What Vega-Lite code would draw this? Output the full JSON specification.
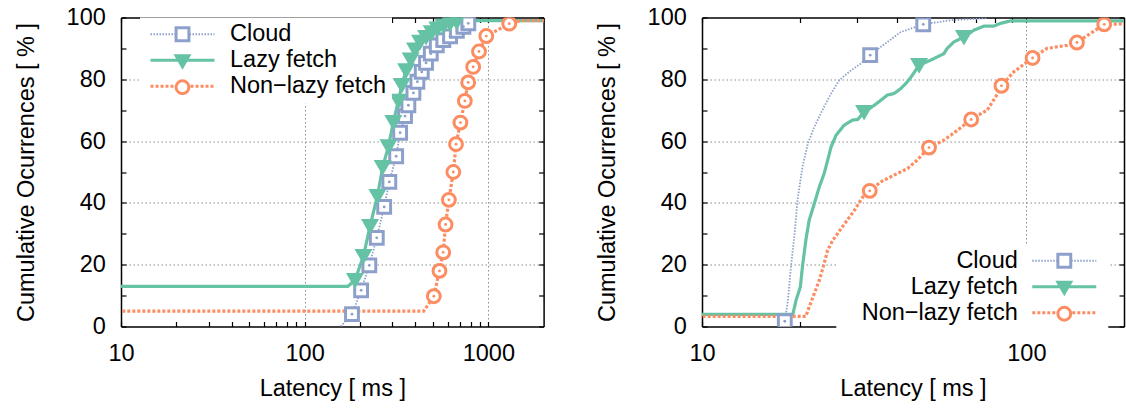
{
  "$schema": "https://vega.github.io/schema/vega-lite/v6.json",
  "background": "white",
  "padding": {"left": 14, "top": 5.5, "right": 2, "bottom": 2},
  "spacing": 50,
  "resolve": {"legend": {"color": "independent", "strokeDash": "independent", "shape": "independent"}},
  "datasets": {
    "left_lines": [
      {"series": "Cloud", "latency": 157, "pct": 0}, {"series": "Cloud", "latency": 181, "pct": 4}, {"series": "Cloud", "latency": 203, "pct": 11.7}, {"series": "Cloud", "latency": 225, "pct": 19.8}, {"series": "Cloud", "latency": 247, "pct": 28.7}, {"series": "Cloud", "latency": 271, "pct": 38.7}, {"series": "Cloud", "latency": 289, "pct": 46.8}, {"series": "Cloud", "latency": 315, "pct": 55.1}, {"series": "Cloud", "latency": 331, "pct": 62.7}, {"series": "Cloud", "latency": 352, "pct": 68.1}, {"series": "Cloud", "latency": 367, "pct": 71.6}, {"series": "Cloud", "latency": 391, "pct": 75.6}, {"series": "Cloud", "latency": 411, "pct": 79.2}, {"series": "Cloud", "latency": 434, "pct": 82.4}, {"series": "Cloud", "latency": 458, "pct": 85.3}, {"series": "Cloud", "latency": 486, "pct": 88.3}, {"series": "Cloud", "latency": 524, "pct": 91}, {"series": "Cloud", "latency": 569, "pct": 92.7}, {"series": "Cloud", "latency": 619, "pct": 93.9}, {"series": "Cloud", "latency": 674, "pct": 95.7}, {"series": "Cloud", "latency": 732, "pct": 97}, {"series": "Cloud", "latency": 778, "pct": 98.1}, {"series": "Cloud", "latency": 830, "pct": 99}, {"series": "Cloud", "latency": 3000, "pct": 99},
      {"series": "Lazy fetch", "latency": 1, "pct": 13}, {"series": "Lazy fetch", "latency": 172, "pct": 13}, {"series": "Lazy fetch", "latency": 188, "pct": 15}, {"series": "Lazy fetch", "latency": 209, "pct": 22.8}, {"series": "Lazy fetch", "latency": 227, "pct": 32.5}, {"series": "Lazy fetch", "latency": 249, "pct": 42.2}, {"series": "Lazy fetch", "latency": 266, "pct": 51.6}, {"series": "Lazy fetch", "latency": 286, "pct": 58.3}, {"series": "Lazy fetch", "latency": 304, "pct": 66.2}, {"series": "Lazy fetch", "latency": 324, "pct": 73}, {"series": "Lazy fetch", "latency": 338, "pct": 78.1}, {"series": "Lazy fetch", "latency": 357, "pct": 82.9}, {"series": "Lazy fetch", "latency": 378, "pct": 86.4}, {"series": "Lazy fetch", "latency": 399, "pct": 89.6}, {"series": "Lazy fetch", "latency": 425, "pct": 92.1}, {"series": "Lazy fetch", "latency": 458, "pct": 93.7}, {"series": "Lazy fetch", "latency": 492, "pct": 95.2}, {"series": "Lazy fetch", "latency": 528, "pct": 96.4}, {"series": "Lazy fetch", "latency": 569, "pct": 97.3}, {"series": "Lazy fetch", "latency": 619, "pct": 98.1}, {"series": "Lazy fetch", "latency": 673, "pct": 98.6}, {"series": "Lazy fetch", "latency": 720, "pct": 99}, {"series": "Lazy fetch", "latency": 3000, "pct": 99},
      {"series": "Non−lazy fetch", "latency": 1, "pct": 5}, {"series": "Non−lazy fetch", "latency": 445, "pct": 5}, {"series": "Non−lazy fetch", "latency": 505, "pct": 9.8}, {"series": "Non−lazy fetch", "latency": 542, "pct": 18}, {"series": "Non−lazy fetch", "latency": 568, "pct": 24}, {"series": "Non−lazy fetch", "latency": 585, "pct": 33}, {"series": "Non−lazy fetch", "latency": 610, "pct": 41}, {"series": "Non−lazy fetch", "latency": 645, "pct": 50}, {"series": "Non−lazy fetch", "latency": 667, "pct": 59}, {"series": "Non−lazy fetch", "latency": 705, "pct": 66}, {"series": "Non−lazy fetch", "latency": 745, "pct": 73}, {"series": "Non−lazy fetch", "latency": 777, "pct": 79}, {"series": "Non−lazy fetch", "latency": 827, "pct": 84}, {"series": "Non−lazy fetch", "latency": 890, "pct": 89}, {"series": "Non−lazy fetch", "latency": 975, "pct": 94}, {"series": "Non−lazy fetch", "latency": 1300, "pct": 98}, {"series": "Non−lazy fetch", "latency": 1500, "pct": 99}, {"series": "Non−lazy fetch", "latency": 3000, "pct": 99}
    ],
    "left_points": [
      {"series": "Cloud", "latency": 181, "pct": 4}, {"series": "Cloud", "latency": 203, "pct": 11.7}, {"series": "Cloud", "latency": 225, "pct": 19.8}, {"series": "Cloud", "latency": 247, "pct": 28.7}, {"series": "Cloud", "latency": 271, "pct": 38.7}, {"series": "Cloud", "latency": 289, "pct": 46.8}, {"series": "Cloud", "latency": 315, "pct": 55.1}, {"series": "Cloud", "latency": 331, "pct": 62.7}, {"series": "Cloud", "latency": 352, "pct": 68.1}, {"series": "Cloud", "latency": 367, "pct": 71.6}, {"series": "Cloud", "latency": 391, "pct": 75.6}, {"series": "Cloud", "latency": 411, "pct": 79.2}, {"series": "Cloud", "latency": 434, "pct": 82.4}, {"series": "Cloud", "latency": 458, "pct": 85.3}, {"series": "Cloud", "latency": 486, "pct": 88.3}, {"series": "Cloud", "latency": 524, "pct": 91}, {"series": "Cloud", "latency": 569, "pct": 92.7}, {"series": "Cloud", "latency": 619, "pct": 93.9}, {"series": "Cloud", "latency": 674, "pct": 95.7}, {"series": "Cloud", "latency": 732, "pct": 97}, {"series": "Cloud", "latency": 778, "pct": 98.1},
      {"series": "Lazy fetch", "latency": 188, "pct": 15}, {"series": "Lazy fetch", "latency": 209, "pct": 22.8}, {"series": "Lazy fetch", "latency": 227, "pct": 32.5}, {"series": "Lazy fetch", "latency": 249, "pct": 42.2}, {"series": "Lazy fetch", "latency": 266, "pct": 51.6}, {"series": "Lazy fetch", "latency": 286, "pct": 58.3}, {"series": "Lazy fetch", "latency": 304, "pct": 66.2}, {"series": "Lazy fetch", "latency": 324, "pct": 73}, {"series": "Lazy fetch", "latency": 338, "pct": 78.1}, {"series": "Lazy fetch", "latency": 357, "pct": 82.9}, {"series": "Lazy fetch", "latency": 378, "pct": 86.4}, {"series": "Lazy fetch", "latency": 399, "pct": 89.6}, {"series": "Lazy fetch", "latency": 425, "pct": 92.1}, {"series": "Lazy fetch", "latency": 458, "pct": 93.7}, {"series": "Lazy fetch", "latency": 492, "pct": 95.2}, {"series": "Lazy fetch", "latency": 528, "pct": 96.4}, {"series": "Lazy fetch", "latency": 569, "pct": 97.3}, {"series": "Lazy fetch", "latency": 619, "pct": 98.1}, {"series": "Lazy fetch", "latency": 673, "pct": 98.6},
      {"series": "Non−lazy fetch", "latency": 505, "pct": 9.8}, {"series": "Non−lazy fetch", "latency": 542, "pct": 18}, {"series": "Non−lazy fetch", "latency": 568, "pct": 24}, {"series": "Non−lazy fetch", "latency": 585, "pct": 33}, {"series": "Non−lazy fetch", "latency": 610, "pct": 41}, {"series": "Non−lazy fetch", "latency": 645, "pct": 50}, {"series": "Non−lazy fetch", "latency": 667, "pct": 59}, {"series": "Non−lazy fetch", "latency": 705, "pct": 66}, {"series": "Non−lazy fetch", "latency": 745, "pct": 73}, {"series": "Non−lazy fetch", "latency": 777, "pct": 79}, {"series": "Non−lazy fetch", "latency": 827, "pct": 84}, {"series": "Non−lazy fetch", "latency": 890, "pct": 89}, {"series": "Non−lazy fetch", "latency": 975, "pct": 94}, {"series": "Non−lazy fetch", "latency": 1300, "pct": 98}
    ],
    "right_lines": [
      {"series": "Cloud", "latency": 18, "pct": 1.7}, {"series": "Cloud", "latency": 18.4, "pct": 8.5}, {"series": "Cloud", "latency": 18.8, "pct": 19.3}, {"series": "Cloud", "latency": 19.3, "pct": 30.1}, {"series": "Cloud", "latency": 19.7, "pct": 40.9}, {"series": "Cloud", "latency": 20.4, "pct": 51.6}, {"series": "Cloud", "latency": 21.2, "pct": 59.2}, {"series": "Cloud", "latency": 22.2, "pct": 64.6}, {"series": "Cloud", "latency": 23.5, "pct": 70}, {"series": "Cloud", "latency": 25, "pct": 75.4}, {"series": "Cloud", "latency": 26.5, "pct": 79.7}, {"series": "Cloud", "latency": 28.8, "pct": 82.9}, {"series": "Cloud", "latency": 30.9, "pct": 85.1}, {"series": "Cloud", "latency": 33, "pct": 87.8}, {"series": "Cloud", "latency": 35.6, "pct": 90.5}, {"series": "Cloud", "latency": 39.1, "pct": 93.7}, {"series": "Cloud", "latency": 41, "pct": 95.3}, {"series": "Cloud", "latency": 48.1, "pct": 97.8}, {"series": "Cloud", "latency": 58.3, "pct": 99.1}, {"series": "Cloud", "latency": 76, "pct": 99.8},
      {"series": "Lazy fetch", "latency": 1, "pct": 3.9}, {"series": "Lazy fetch", "latency": 19.05, "pct": 3.9}, {"series": "Lazy fetch", "latency": 19.5, "pct": 8.5}, {"series": "Lazy fetch", "latency": 20.1, "pct": 12.8}, {"series": "Lazy fetch", "latency": 20.4, "pct": 19.3}, {"series": "Lazy fetch", "latency": 20.9, "pct": 27.9}, {"series": "Lazy fetch", "latency": 21.4, "pct": 34.4}, {"series": "Lazy fetch", "latency": 22.2, "pct": 39.8}, {"series": "Lazy fetch", "latency": 23, "pct": 45.2}, {"series": "Lazy fetch", "latency": 23.8, "pct": 49.5}, {"series": "Lazy fetch", "latency": 24.4, "pct": 53.8}, {"series": "Lazy fetch", "latency": 25, "pct": 58.1}, {"series": "Lazy fetch", "latency": 25.9, "pct": 61.9}, {"series": "Lazy fetch", "latency": 27.4, "pct": 65.1}, {"series": "Lazy fetch", "latency": 29.1, "pct": 66.8}, {"series": "Lazy fetch", "latency": 30.2, "pct": 67}, {"series": "Lazy fetch", "latency": 31.6, "pct": 69.4}, {"series": "Lazy fetch", "latency": 34, "pct": 71.6}, {"series": "Lazy fetch", "latency": 37.3, "pct": 74.9}, {"series": "Lazy fetch", "latency": 39.1, "pct": 75.4}, {"series": "Lazy fetch", "latency": 41, "pct": 77}, {"series": "Lazy fetch", "latency": 43, "pct": 79.2}, {"series": "Lazy fetch", "latency": 44.5, "pct": 81.3}, {"series": "Lazy fetch", "latency": 46.7, "pct": 84.6}, {"series": "Lazy fetch", "latency": 50.7, "pct": 86.2}, {"series": "Lazy fetch", "latency": 55.7, "pct": 88.3}, {"series": "Lazy fetch", "latency": 57, "pct": 90}, {"series": "Lazy fetch", "latency": 59.8, "pct": 92.1}, {"series": "Lazy fetch", "latency": 64.2, "pct": 93.7}, {"series": "Lazy fetch", "latency": 68.9, "pct": 95.9}, {"series": "Lazy fetch", "latency": 73.9, "pct": 97.2}, {"series": "Lazy fetch", "latency": 79.3, "pct": 97.2}, {"series": "Lazy fetch", "latency": 83.2, "pct": 98.1}, {"series": "Lazy fetch", "latency": 89.3, "pct": 98.9}, {"series": "Lazy fetch", "latency": 300, "pct": 98.9},
      {"series": "Non−lazy fetch", "latency": 1, "pct": 3.3}, {"series": "Non−lazy fetch", "latency": 20.9, "pct": 3.3}, {"series": "Non−lazy fetch", "latency": 21.4, "pct": 6.3}, {"series": "Non−lazy fetch", "latency": 22.2, "pct": 10.7}, {"series": "Non−lazy fetch", "latency": 23, "pct": 15}, {"series": "Non−lazy fetch", "latency": 23.8, "pct": 20.4}, {"series": "Non−lazy fetch", "latency": 24.4, "pct": 24.7}, {"series": "Non−lazy fetch", "latency": 25.3, "pct": 27.9}, {"series": "Non−lazy fetch", "latency": 26.2, "pct": 30.1}, {"series": "Non−lazy fetch", "latency": 27.8, "pct": 33.9}, {"series": "Non−lazy fetch", "latency": 29.5, "pct": 37.6}, {"series": "Non−lazy fetch", "latency": 31.3, "pct": 41.9}, {"series": "Non−lazy fetch", "latency": 32.9, "pct": 43.9}, {"series": "Non−lazy fetch", "latency": 35.6, "pct": 46.8}, {"series": "Non−lazy fetch", "latency": 39.1, "pct": 49}, {"series": "Non−lazy fetch", "latency": 43, "pct": 51.1}, {"series": "Non−lazy fetch", "latency": 46, "pct": 53.8}, {"series": "Non−lazy fetch", "latency": 50.1, "pct": 57.9}, {"series": "Non−lazy fetch", "latency": 55.7, "pct": 60.3}, {"series": "Non−lazy fetch", "latency": 61.3, "pct": 63.5}, {"series": "Non−lazy fetch", "latency": 67.6, "pct": 67}, {"series": "Non−lazy fetch", "latency": 75.7, "pct": 70}, {"series": "Non−lazy fetch", "latency": 80.4, "pct": 74.3}, {"series": "Non−lazy fetch", "latency": 83.8, "pct": 77.9}, {"series": "Non−lazy fetch", "latency": 91.4, "pct": 82.4}, {"series": "Non−lazy fetch", "latency": 104.5, "pct": 86.9}, {"series": "Non−lazy fetch", "latency": 115.8, "pct": 90}, {"series": "Non−lazy fetch", "latency": 133.5, "pct": 91}, {"series": "Non−lazy fetch", "latency": 143.2, "pct": 91.9}, {"series": "Non−lazy fetch", "latency": 157.4, "pct": 94.8}, {"series": "Non−lazy fetch", "latency": 173.8, "pct": 97.8}, {"series": "Non−lazy fetch", "latency": 300, "pct": 98.3}
    ],
    "right_points": [
      {"series": "Cloud", "latency": 18, "pct": 1.7}, {"series": "Cloud", "latency": 33, "pct": 87.8}, {"series": "Cloud", "latency": 48.1, "pct": 97.8},
      {"series": "Lazy fetch", "latency": 31.6, "pct": 69.4}, {"series": "Lazy fetch", "latency": 46.7, "pct": 84.6}, {"series": "Lazy fetch", "latency": 64.2, "pct": 93.7},
      {"series": "Non−lazy fetch", "latency": 32.9, "pct": 43.9}, {"series": "Non−lazy fetch", "latency": 50.1, "pct": 57.9}, {"series": "Non−lazy fetch", "latency": 67.6, "pct": 67}, {"series": "Non−lazy fetch", "latency": 83.8, "pct": 77.9}, {"series": "Non−lazy fetch", "latency": 104.5, "pct": 86.9}, {"series": "Non−lazy fetch", "latency": 143.2, "pct": 91.9}, {"series": "Non−lazy fetch", "latency": 173.8, "pct": 97.8}
    ]
  },
  "hconcat": [
    {
      "width": 422.6,
      "height": 309,
      "layer": [
        {
          "data": {"name": "left_lines"},
          "mark": {"type": "line", "clip": true, "strokeWidth": {"expr": "datum.series === 'Cloud' ? 1.8 : 3.2"}},
          "encoding": {
            "x": {"field": "latency", "type": "quantitative", "scale": {"type": "log", "domain": [10, 2000], "nice": false},
              "axis": {"orient": "bottom", "values": [10, 20, 30, 40, 50, 60, 70, 80, 90, 100, 200, 300, 400, 500, 600, 700, 800, 900, 1000], "format": "d",
                "labelExpr": "datum.value == 10 || datum.value == 100 || datum.value == 1000 ? datum.label : ''",
                "grid": true, "gridOpacity": {"condition": {"test": "datum.value == 100 || datum.value == 1000", "value": 1}, "value": 0},
                "tickSize": -5, "labelPadding": 38.7, "labelBaseline": "alphabetic",
                "title": "Latency [ ms ]", "titleBaseline": "alphabetic", "titleY": 68.7}},
            "y": {"field": "pct", "type": "quantitative", "scale": {"domain": [0, 100], "nice": false},
              "axis": {"orient": "left", "values": [0, 10, 20, 30, 40, 50, 60, 70, 80, 90, 100],
                "labelExpr": "datum.value % 20 == 0 ? datum.label : ''",
                "grid": true, "gridOpacity": {"condition": {"test": "datum.value % 20 == 0 && datum.value > 0 && datum.value < 100", "value": 1}, "value": 0},
                "tickSize": -5, "labelPadding": 20.7,
                "title": "Cumulative Ocurrences [ % ]", "titleBaseline": "alphabetic", "titleX": -87.7}},
            "color": {"field": "series", "type": "nominal",
              "scale": {"domain": ["Cloud", "Lazy fetch", "Non−lazy fetch"], "range": ["#8da0cb", "#66c2a5", "#fc8d62"]},
              "legend": {"orient": "none", "legendX": 19, "legendY": 0, "title": null, "symbolType": "M-4,0H4", "symbolSize": 256,
                "symbolOffset": 25.75, "labelOffset": 35.75, "padding": 5, "rowPadding": 1, "fillColor": "white", "labelLimit": 400,
                "encoding": {"symbols": {"strokeWidth": {"value": {"expr": "datum.value === 'Cloud' ? 1.8 : 3.2"}}}}}},
            "strokeDash": {"field": "series", "type": "nominal",
              "scale": {"domain": ["Cloud", "Lazy fetch", "Non−lazy fetch"], "range": [[1.5, 1.5], [1, 0], [3, 2]]}}
          }
        },
        {
          "data": {"name": "left_points"},
          "mark": {"type": "point", "clip": true, "opacity": 1, "size": 165, "strokeWidth": 3,
            "stroke": {"expr": "datum.series === 'Cloud' ? '#8da0cb' : datum.series === 'Lazy fetch' ? '#66c2a5' : '#fc8d62'"},
            "fill": {"expr": "datum.series === 'Lazy fetch' ? '#66c2a5' : 'white'"}},
          "encoding": {
            "x": {"field": "latency", "type": "quantitative",
              "axis": {"orient": "top", "values": [10, 20, 30, 40, 50, 60, 70, 80, 90, 100, 200, 300, 400, 500, 600, 700, 800, 900, 1000], "labels": false, "grid": false, "tickSize": -5, "title": null}},
            "y": {"field": "pct", "type": "quantitative",
              "axis": {"orient": "right", "values": [0, 10, 20, 30, 40, 50, 60, 70, 80, 90, 100], "labels": false, "grid": false, "tickSize": -5, "title": null}},
            "shape": {"field": "series", "type": "nominal",
              "scale": {"range": ["square", "triangle-down", "circle"]},
              "legend": {"orient": "none", "legendX": 19, "legendY": 0, "title": null, "symbolSize": 165,
                "symbolOffset": 25.75, "labelOffset": 35.75, "padding": 5, "rowPadding": 1, "labelOpacity": 0, "labelLimit": 400, "zindex": 1,
                "encoding": {"symbols": {
                  "stroke": {"value": {"expr": "datum.value === 'Cloud' ? '#8da0cb' : datum.value === 'Lazy fetch' ? '#66c2a5' : '#fc8d62'"}},
                  "fill": {"value": {"expr": "datum.value === 'Lazy fetch' ? '#66c2a5' : 'white'"}},
                  "strokeWidth": {"value": 3}, "opacity": {"value": 1}}}}}
          }
        },
        {
          "data": {"name": "left_points"},
          "mark": {"type": "point", "filled": true, "clip": true, "opacity": 1, "size": 8},
          "encoding": {
            "x": {"field": "latency", "type": "quantitative", "axis": null},
            "y": {"field": "pct", "type": "quantitative", "axis": null},
            "color": {"field": "series", "type": "nominal", "legend": null}
          }
        }
      ]
    },
    {
      "width": 422,
      "height": 309,
      "layer": [
        {
          "data": {"name": "right_lines"},
          "mark": {"type": "line", "clip": true, "strokeWidth": {"expr": "datum.series === 'Cloud' ? 1.8 : 3.2"}},
          "encoding": {
            "x": {"field": "latency", "type": "quantitative", "scale": {"type": "log", "domain": [10, 200], "nice": false},
              "axis": {"orient": "bottom", "values": [10, 20, 30, 40, 50, 60, 70, 80, 90, 100], "format": "d",
                "labelExpr": "datum.value == 10 || datum.value == 100 ? datum.label : ''",
                "grid": true, "gridOpacity": {"condition": {"test": "datum.value == 100", "value": 1}, "value": 0},
                "tickSize": -5, "labelPadding": 38.7, "labelBaseline": "alphabetic",
                "title": "Latency [ ms ]", "titleBaseline": "alphabetic", "titleY": 68.7}},
            "y": {"field": "pct", "type": "quantitative", "scale": {"domain": [0, 100], "nice": false},
              "axis": {"orient": "left", "values": [0, 10, 20, 30, 40, 50, 60, 70, 80, 90, 100],
                "labelExpr": "datum.value % 20 == 0 ? datum.label : ''",
                "grid": true, "gridOpacity": {"condition": {"test": "datum.value % 20 == 0 && datum.value > 0 && datum.value < 100", "value": 1}, "value": 0},
                "tickSize": -5, "labelPadding": 20.7,
                "title": "Cumulative Ocurrences [ % ]", "titleBaseline": "alphabetic", "titleX": -87.7}},
            "color": {"field": "series", "type": "nominal",
              "scale": {"domain": ["Cloud", "Lazy fetch", "Non−lazy fetch"], "range": ["#8da0cb", "#66c2a5", "#fc8d62"]},
              "legend": {"orient": "none", "legendX": 134.3, "legendY": 226.5, "title": null, "symbolType": "M-4,0H4", "symbolSize": 256,
                "symbolOffset": 211.25, "labelOffset": -58.25, "labelAlign": "right", "padding": 5, "rowPadding": 1, "fillColor": "white", "labelLimit": 400,
                "encoding": {"symbols": {"strokeWidth": {"value": {"expr": "datum.value === 'Cloud' ? 1.8 : 3.2"}}}}}},
            "strokeDash": {"field": "series", "type": "nominal",
              "scale": {"domain": ["Cloud", "Lazy fetch", "Non−lazy fetch"], "range": [[1.5, 1.5], [1, 0], [3, 2]]}}
          }
        },
        {
          "data": {"name": "right_points"},
          "mark": {"type": "point", "clip": true, "opacity": 1, "size": 165, "strokeWidth": 3,
            "stroke": {"expr": "datum.series === 'Cloud' ? '#8da0cb' : datum.series === 'Lazy fetch' ? '#66c2a5' : '#fc8d62'"},
            "fill": {"expr": "datum.series === 'Lazy fetch' ? '#66c2a5' : 'white'"}},
          "encoding": {
            "x": {"field": "latency", "type": "quantitative",
              "axis": {"orient": "top", "values": [10, 20, 30, 40, 50, 60, 70, 80, 90, 100], "labels": false, "grid": false, "tickSize": -5, "title": null}},
            "y": {"field": "pct", "type": "quantitative",
              "axis": {"orient": "right", "values": [0, 10, 20, 30, 40, 50, 60, 70, 80, 90, 100], "labels": false, "grid": false, "tickSize": -5, "title": null}},
            "shape": {"field": "series", "type": "nominal",
              "scale": {"range": ["square", "triangle-down", "circle"]},
              "legend": {"orient": "none", "legendX": 134.3, "legendY": 226.5, "title": null, "symbolSize": 165,
                "symbolOffset": 211.25, "labelOffset": -58.25, "labelAlign": "right", "padding": 5, "rowPadding": 1, "labelOpacity": 0, "labelLimit": 400, "zindex": 1,
                "encoding": {"symbols": {
                  "stroke": {"value": {"expr": "datum.value === 'Cloud' ? '#8da0cb' : datum.value === 'Lazy fetch' ? '#66c2a5' : '#fc8d62'"}},
                  "fill": {"value": {"expr": "datum.value === 'Lazy fetch' ? '#66c2a5' : 'white'"}},
                  "strokeWidth": {"value": 3}, "opacity": {"value": 1}}}}}
          }
        },
        {
          "data": {"name": "right_points"},
          "mark": {"type": "point", "filled": true, "clip": true, "opacity": 1, "size": 8},
          "encoding": {
            "x": {"field": "latency", "type": "quantitative", "axis": null},
            "y": {"field": "pct", "type": "quantitative", "axis": null},
            "color": {"field": "series", "type": "nominal", "legend": null}
          }
        }
      ]
    }
  ],
  "config": {
    "font": "Liberation Sans",
    "view": {"stroke": null},
    "axis": {"domainColor": "black", "domainWidth": 1.5, "tickColor": "black", "tickWidth": 1.2,
      "labelFont": "Liberation Sans", "labelFontSize": 23.5, "labelColor": "black",
      "titleFont": "Liberation Sans", "titleFontSize": 23.5, "titleFontWeight": "normal", "titleColor": "black",
      "gridColor": "#8c8c8c", "gridDash": [1.5, 2.5], "gridWidth": 1, "labelFlush": false, "labelOverlap": false},
    "legend": {"labelFont": "Liberation Sans", "labelFontSize": 23.5, "labelColor": "black"}
  }
}
